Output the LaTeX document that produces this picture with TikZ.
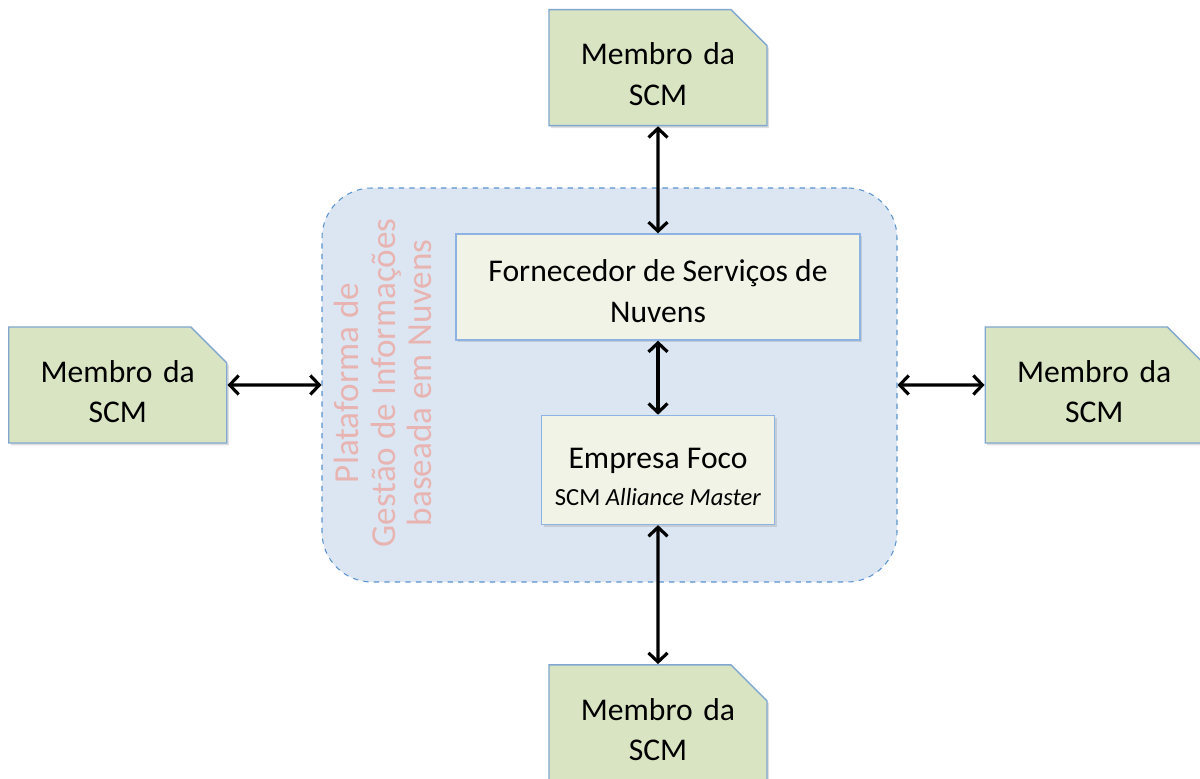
\documentclass[tikz,border=0pt]{standalone}
\usepackage{fontspec}
\setmainfont{Carlito}
\usepackage{tikz}
\usetikzlibrary{shapes.misc, arrows.meta, positioning, shadows}
\definecolor{MemberGreen}{HTML}{D9E4C3}
\definecolor{MemberEdge}{HTML}{7FA7CF}
\definecolor{PlatBg}{HTML}{DCE6F2}
\definecolor{PlatEdge}{HTML}{5B93CE}
\definecolor{InnerBg}{HTML}{F1F3E7}
\definecolor{InnerEdge}{HTML}{8DB3E2}
\definecolor{PinkText}{HTML}{E8B4B2}
\newcommand{\toppad}[1]{\rule{0pt}{#1}}
\tikzset{
    member/.style={chamfered rectangle, chamfered rectangle corners=north east, chamfered rectangle xsep=0.36cm, chamfered rectangle ysep=0.36cm, draw=MemberEdge, fill=MemberGreen, line width=0.8pt, minimum width=4.0cm, minimum height=2.32cm, text width=3.64cm, align=center, inner sep=0pt, font=\fontsize{18}{23}\selectfont, drop shadow={opacity=0.25, shadow xshift=0.04cm, shadow yshift=-0.05cm}},
    plat/.style={rectangle, draw=PlatEdge, fill=PlatBg, dashed, line width=0.6pt, rounded corners=1cm, minimum width=11.5cm, minimum height=7.88cm},
    inner_box/.style={rectangle, draw=InnerEdge, fill=InnerBg, line width=0.8pt, align=center, inner sep=0pt, font=\fontsize{18}{23}\selectfont, drop shadow={opacity=0.25, shadow xshift=0.04cm, shadow yshift=-0.05cm}},
    arr/.style={{Straight Barb[length=1.8mm, width=3.8mm]}-{Straight Barb[length=1.8mm, width=3.8mm]}, line width=1.8pt, draw=black},
    note/.style={text=PinkText, align=center, font=\fontsize{20}{21}\selectfont},
}
\begin{document}
\begin{tikzpicture}
\useasboundingbox (0,0) rectangle (24,15.56);
% platform
\node[plat] (plat) at (12.19,7.86) {};
\node[note, rotate=90] (platlbl) at (7.66,7.9) {Plataforma de\\Gestão de Informações\\baseada em Nuvens};
% provider and focal company
\node[inner_box, minimum width=8.08cm, minimum height=2.12cm] (forn) at (13.16,9.82) {\toppad{17pt}Fornecedor de Serviços de\\Nuvens};
\node[inner_box, minimum width=4.66cm, minimum height=2.18cm, below=1.48cm of forn] (emp) {\toppad{20pt}Empresa Foco\\[-2pt]{\fontsize{14}{17}\selectfont SCM \textit{Alliance Master}}};
% members
\node[member, above=2.14cm of forn] (m_top) {\toppad{20pt}Membro da\\SCM};
\node[member, below=2.78cm of emp] (m_bot) {\toppad{20pt}Membro da\\SCM};
\node[member, left=1.88cm of plat] (m_left) {\toppad{20pt}Membro da\\SCM};
\node[member, right=1.74cm of plat] (m_right) {\toppad{20pt}Membro da\\SCM};

\draw[arr] (m_top) -- (forn);
\draw[arr] (forn) -- (emp);
\draw[arr] (emp) -- (m_bot);
\draw[arr] (m_left) -- (plat);
\draw[arr] (plat) -- (m_right);
\end{tikzpicture}
\end{document}
